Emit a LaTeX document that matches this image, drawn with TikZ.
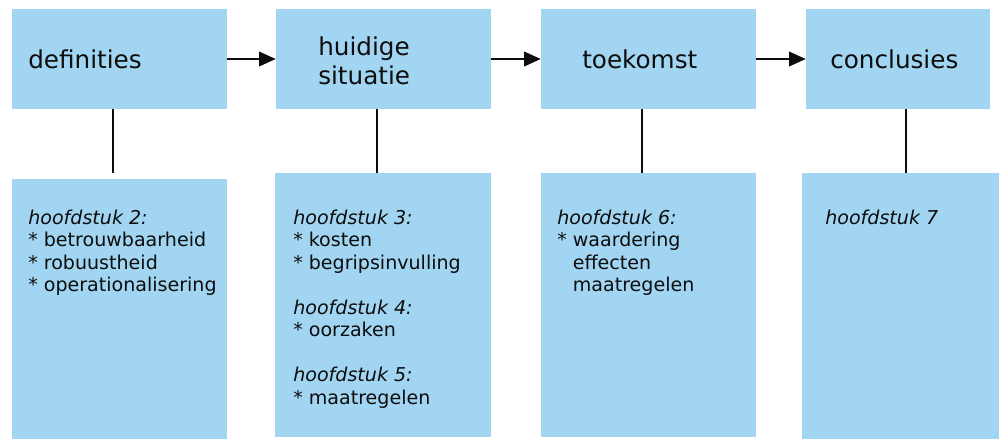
\documentclass[tikz,border=0pt]{standalone}
\usepackage{fontspec}
\setmainfont{DejaVu Sans}
\usetikzlibrary{arrows.meta, positioning}
\definecolor{boxBlue}{RGB}{161,213,241}
\definecolor{mainBlack}{gray}{0.05}

\tikzset{
  headbox/.style={fill=boxBlue, minimum height=75pt, inner sep=0pt},
  notebox/.style={fill=boxBlue, inner sep=0pt},
  headtext/.style={anchor=base west, align=left, inner sep=0pt, text=mainBlack, font=\fontsize{18.5}{21.75}\selectfont},
  notetext/.style={anchor=base west, align=left, inner sep=0pt, text=mainBlack, font=\fontsize{14.3}{16.875}\selectfont},
  link/.style={line width=1.1pt, mainBlack},
}

\begin{document}
\begin{tikzpicture}[x=0.75pt, y=-0.75pt, >={Triangle[length=12.5pt, width=11pt]}]
    \useasboundingbox (0,0) rectangle (999,439);

    % Top row
    \node[headbox, minimum width=161.25pt] (defin) at (119.5,59) {};
    \node[headbox, minimum width=161.25pt] (huidig) at (383.5,59) {};
    \node[headbox, minimum width=161.25pt] (toek) at (648.5,59) {};
    \node[headbox, minimum width=138pt] (concl) at (898,59) {};

    % base = last line
    \node[headtext] (defintxt) at (28,68) {definities};
    \node[headtext] (huidigtxt) at (318,84) {huidige\\situatie};
    \node[headtext] (toektxt) at (582,68) {toekomst};
    \node[headtext] (concltxt) at (830,68) {conclusies};

    % Bottom row
    \node[notebox, minimum width=161.25pt, minimum height=195pt] (hfd2) at (119.5,309) {};
    \node[notebox, minimum width=162pt, minimum height=198pt] (hfd3) at (383,305) {};
    \node[notebox, minimum width=161.25pt, minimum height=198pt] (hfd6) at (648.5,305) {};
    \node[notebox, minimum width=147.75pt, minimum height=199.5pt] (hfd7) at (900.5,306) {};

    \node[notetext] (hfd2txt) at (28,291.5) {\itshape hoofdstuk 2:\\
        * betrouwbaarheid\\* robuustheid\\* operationalisering};
    \node[notetext] (hfd3txt) at (293,404) {\itshape hoofdstuk 3:\\
        * kosten\\* begripsinvulling\\[16.875pt]
        \itshape hoofdstuk 4:\\* oorzaken\\[16.875pt]
        \itshape hoofdstuk 5:\\* maatregelen};
    \node[notetext] (hfd6txt) at (557,291.5) {\itshape hoofdstuk 6:\\
        * waardering\\\phantom{* }effecten\\\phantom{* }maatregelen};
    \node[notetext] (hfd7txt) at (825,224) {\itshape hoofdstuk 7};

    % Arrows
    \draw[->, link] (defin) -- (huidig);
    \draw[->, link] (huidig) -- (toek);
    \draw[->, link] (toek) -- (concl);

    % Links down
    \draw[link] ([xshift=-4.9pt]defin.south) -- ([xshift=-4.9pt, yshift=4.5pt]defin.south |- hfd2.north);
    \draw[link] ([xshift=-4.9pt]huidig.south) -- ([xshift=-4.9pt]huidig.south |- hfd3.north);
    \draw[link] ([xshift=-4.9pt]toek.south) -- ([xshift=-4.9pt]toek.south |- hfd6.north);
    \draw[link] ([xshift=6pt]concl.south) -- ([xshift=6pt]concl.south |- hfd7.north);
\end{tikzpicture}
\end{document}
